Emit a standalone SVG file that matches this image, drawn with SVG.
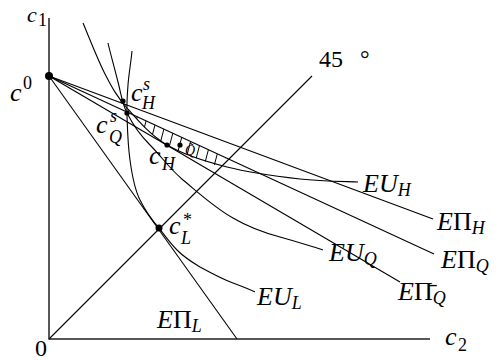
<svg xmlns="http://www.w3.org/2000/svg" width="499" height="360" viewBox="0 0 499 360">
<style>
.ax{fill:none;stroke:#222;stroke-width:1.5}
.ln{fill:none;stroke:#000;stroke-width:1.1}
.ht{fill:none;stroke:#000;stroke-width:1}
.t{font-family:"Liberation Serif","DejaVu Serif",serif;font-style:italic;font-size:26px;fill:#000}
.u{font-style:normal}
.s{font-size:18px}
.dot{fill:#000}
</style>
<defs>
<clipPath id="band">
<path d="M127,112 L226,158 L218,166 C204.8,161.3 183.7,154.8 167,145 C150.3,135.2 137.3,119.8 127,108 Z"/>
</clipPath>
</defs>
<rect width="499" height="360" fill="#fff"/>
<g id="connectors">
<path id="axes" class="ax" d="M49,18 V339 H430"/>
<path id="EPiL" class="ln" d="M49,76 L237,339"/>
<path id="EPiH" class="ln" d="M49,76 L433,219"/>
<path id="EPiQ" class="ln" d="M49,76 L434,254"/>
<path id="EPiQbar" class="ln" d="M49,76 L400,282"/>
<path id="line45" class="ln" d="M49,339 L312,76"/>
<path id="EUH" class="ln" d="M83,23 C86.7,31.5 97.7,59.8 105,74 C112.3,88.2 116.7,96.2 127,108 C137.3,119.8 150.3,135.2 167,145 C183.7,154.8 204.8,161.3 227,167 C249.2,172.7 278.2,176.5 300,179 C321.8,181.5 348.3,181.5 358,182"/>
<path id="EUQ" class="ln" d="M108,43 C110,52 114,66 118,82 C122,98 122,103 127,113 C132,123 140,135 150,145 C162,157 168,167 183,180 C200,194 215,208 233,218 C250,228 265,233 280,237 C295,241 310,246 323,250"/>
<path id="EUL" class="ln" d="M132,51 C131,62 128.8,74 128,85 C127,97 126.7,105 127,115 C127.5,130 127.8,145 130,160 C132,175 135,190 140,200 C146,212 151,219 159,228 C165,236 170,243 177,250 C184,257 190,261 200,267 C211,273 222,279 233,283 C241,286 249,289 255,292"/>
<g id="hatch" clip-path="url(#band)">
<path class="ht" d="M103,170 l16,-60 M113,170 l16,-60 M123,170 l16,-60 M133,170 l16,-60 M143,170 l16,-60 M153,170 l16,-60 M163,170 l16,-60 M173,170 l16,-60 M183,170 l16,-60 M193,170 l16,-60 M203,170 l16,-60 M213,170 l16,-60 M223,170 l16,-60"/>
</g>
</g>
<g id="n-c0"><circle class="dot" cx="49" cy="76" r="4"/><text class="t" x="10" y="101">c</text><text class="t u s" x="23" y="89">0</text></g>
<g id="n-cHs"><circle class="dot" cx="123" cy="101" r="2.6"/><text class="t" x="131" y="101">c</text><text class="t s" x="143" y="90">s</text><text class="t s" x="142" y="109">H</text></g>
<g id="n-cQs"><circle class="dot" cx="127" cy="113" r="2.6"/><text class="t" x="96" y="133">c</text><text class="t s" x="110" y="122">s</text><text class="t s" x="109" y="143">Q</text></g>
<g id="n-cH"><circle class="dot" cx="167" cy="145" r="2.6"/><text class="t" x="149" y="164">c</text><text class="t s" x="162" y="170">H</text></g>
<g id="n-Qt"><circle class="dot" cx="180" cy="145" r="2.6"/><text class="t" style="font-size:14px" x="185" y="155">Q̃</text></g>
<g id="n-cL"><circle class="dot" cx="159" cy="228" r="3.5"/><text class="t" x="169" y="234">c</text><text class="t u s" x="183" y="226">*</text><text class="t s" x="181" y="244">L</text></g>
<g id="labels">
<text class="t" x="27" y="22" style="font-size:22px">c</text><text class="t u s" x="38" y="26">1</text>
<text class="t" x="445" y="345">c</text><text class="t u s" x="458" y="351">2</text>
<text class="t u" x="35" y="356" style="font-size:24px">0</text>
<text class="t u" x="319" y="67" style="font-size:24px">45</text><text class="t u" x="360" y="67" style="font-size:24px">°</text>
<text class="t" x="363" y="192">EU<tspan class="s" dy="4">H</tspan></text>
<text class="t" x="437" y="230">E<tspan class="u">Π</tspan><tspan class="s" dy="4">H</tspan></text>
<text class="t" x="329" y="261">EU<tspan class="s" dy="4">Q</tspan></text>
<text class="t" x="441" y="268">E<tspan class="u">Π</tspan><tspan class="s" dy="4">Q</tspan></text>
<text class="t" x="398" y="300">E<tspan class="u">Π̄</tspan><tspan class="s" dy="4">Q</tspan></text>
<text class="t" x="257" y="305">EU<tspan class="s" dy="4">L</tspan></text>
<text class="t" x="157" y="328">E<tspan class="u">Π</tspan><tspan class="s" dy="4">L</tspan></text>
</g>
</svg>
